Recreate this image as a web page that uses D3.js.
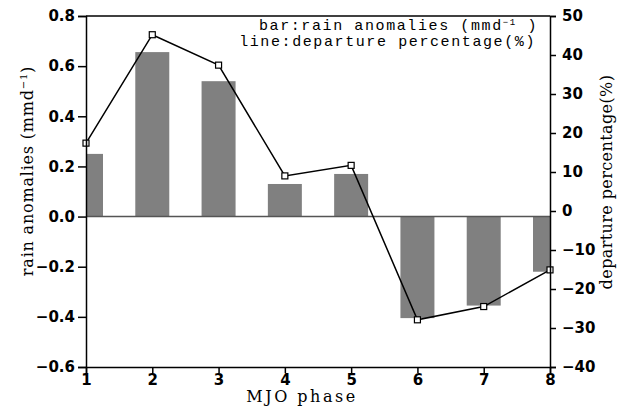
<!DOCTYPE html>
<html>
<head>
<meta charset="utf-8">
<script src="https://cdn.jsdelivr.net/npm/d3@7"></script>
<style>
  body { margin: 0; background: #fff; }
  .tick text { font-family: "DejaVu Sans", sans-serif; font-weight: bold; font-size: 15px; fill: #000; }
  .domain { stroke: #000; stroke-width: 1.5px; }
  .tick line { stroke: #000; stroke-width: 1.5px; }
  .title { font-family: "DejaVu Serif", serif; font-size: 16px; fill: #000; }
</style>
</head>
<body>
<script>
// 数据
var phases = [1, 2, 3, 4, 5, 6, 7, 8];
var rainAnomalies = [0.25, 0.656, 0.54, 0.13, 0.17, -0.405, -0.355, -0.22];
var departurePct = [17.4, 45.2, 37.4, 9.0, 11.7, -27.9, -24.5, -15.1];
var leftTicks = [-0.6, -0.4, -0.2, 0.0, 0.2, 0.4, 0.6, 0.8];
var rightTicks = [-40, -30, -20, -10, 0, 10, 20, 30, 40, 50];

// svg边距
var margin = { top: 16, right: 69, bottom: 43, left: 86 },
    width = 619 - margin.left - margin.right,
    height = 410 - margin.top - margin.bottom;

// 比例尺
var x = d3.scaleLinear().domain([1, 8]).range([0, width]);
var yLeft = d3.scaleLinear().domain([-0.6, 0.8]).range([height, 0]);
var yRight = d3.scaleLinear().domain([-40, 50]).range([height, 0]);

var barWidth = 34;

var svg = d3.select("body").append("svg")
    .attr("width", width + margin.left + margin.right)
    .attr("height", height + margin.top + margin.bottom);

var chart = svg.append("g")
    .attr("transform", "translate(" + margin.left + "," + margin.top + ")");

// 裁剪区域
chart.append("clipPath")
    .attr("id", "plotClip")
    .append("rect")
    .attr("x", 0).attr("y", 0)
    .attr("width", width).attr("height", height);

// 柱子
chart.append("g")
    .attr("clip-path", "url(#plotClip)")
    .selectAll("rect")
    .data(phases)
    .enter()
    .append("rect")
    .attr("x", function (d) { return x(d) - barWidth / 2; })
    .attr("width", barWidth)
    .attr("y", function (d, i) { return yLeft(Math.max(0, rainAnomalies[i])); })
    .attr("height", function (d, i) { return Math.abs(yLeft(rainAnomalies[i]) - yLeft(0)); })
    .style("fill", "#808080");

// 零线
chart.append("line")
    .attr("x1", 0).attr("x2", width)
    .attr("y1", yLeft(0)).attr("y2", yLeft(0))
    .style("stroke", "#555")
    .style("stroke-width", 1.5);

// 折线
var line = d3.line()
    .x(function (d) { return x(d); })
    .y(function (d, i) { return yRight(departurePct[i]); });

chart.append("path")
    .datum(phases)
    .attr("d", line)
    .style("fill", "none")
    .style("stroke", "#000")
    .style("stroke-width", 1.5);

chart.selectAll(".marker")
    .data(phases)
    .enter()
    .append("rect")
    .attr("class", "marker")
    .attr("x", function (d) { return x(d) - 3; })
    .attr("y", function (d, i) { return yRight(departurePct[i]) - 3; })
    .attr("width", 6)
    .attr("height", 6)
    .style("fill", "#fff")
    .style("stroke", "#000")
    .style("stroke-width", 1.2);

// 坐标轴
chart.append("g")
    .call(d3.axisLeft(yLeft).tickValues(leftTicks).tickSize(8).tickPadding(3)
        .tickFormat(d3.format(".1f")));

chart.append("g")
    .attr("transform", "translate(" + width + ",0)")
    .call(d3.axisRight(yRight).tickValues(rightTicks).tickSize(6).tickPadding(6));

chart.append("g")
    .attr("transform", "translate(0," + height + ")")
    .call(d3.axisBottom(x).tickValues(phases).tickSize(6).tickPadding(1)
        .tickFormat(d3.format("d")));

// 上边框
chart.append("line")
    .attr("x1", 0).attr("x2", width)
    .attr("y1", 0).attr("y2", 0)
    .style("stroke", "#000")
    .style("stroke-width", 1.5);

// 坐标轴标题
svg.append("text")
    .attr("class", "title")
    .attr("transform", "translate(33,171) rotate(-90)")
    .attr("text-anchor", "middle")
    .style("letter-spacing", "0.8px")
    .html("rain anomalies (mmd<tspan dy='-6' font-size='10'>−1</tspan><tspan dy='6'>)</tspan>");

svg.append("text")
    .attr("class", "title")
    .attr("transform", "translate(612,182) rotate(-90)")
    .attr("text-anchor", "middle")
    .style("letter-spacing", "0.4px")
    .text("departure percentage(%)");

svg.append("text")
    .attr("class", "title")
    .attr("x", 302)
    .attr("y", 402)
    .attr("text-anchor", "middle")
    .style("letter-spacing", "2.5px")
    .text("MJO phase");

// 图例文字
var legend = svg.append("g")
    .attr("font-family", "Liberation Mono, monospace")
    .attr("font-size", "15px")
    .attr("text-anchor", "end")
    .style("letter-spacing", "1.6px");

legend.append("text")
    .attr("x", 538).attr("y", 30)
    .html("bar:rain anomalies (mmd<tspan dy='-5' font-size='9'>−1</tspan><tspan dy='5'> )</tspan>");

legend.append("text")
    .attr("x", 536).attr("y", 46)
    .text("line:departure percentage(%)");
</script>
</body>
</html>
